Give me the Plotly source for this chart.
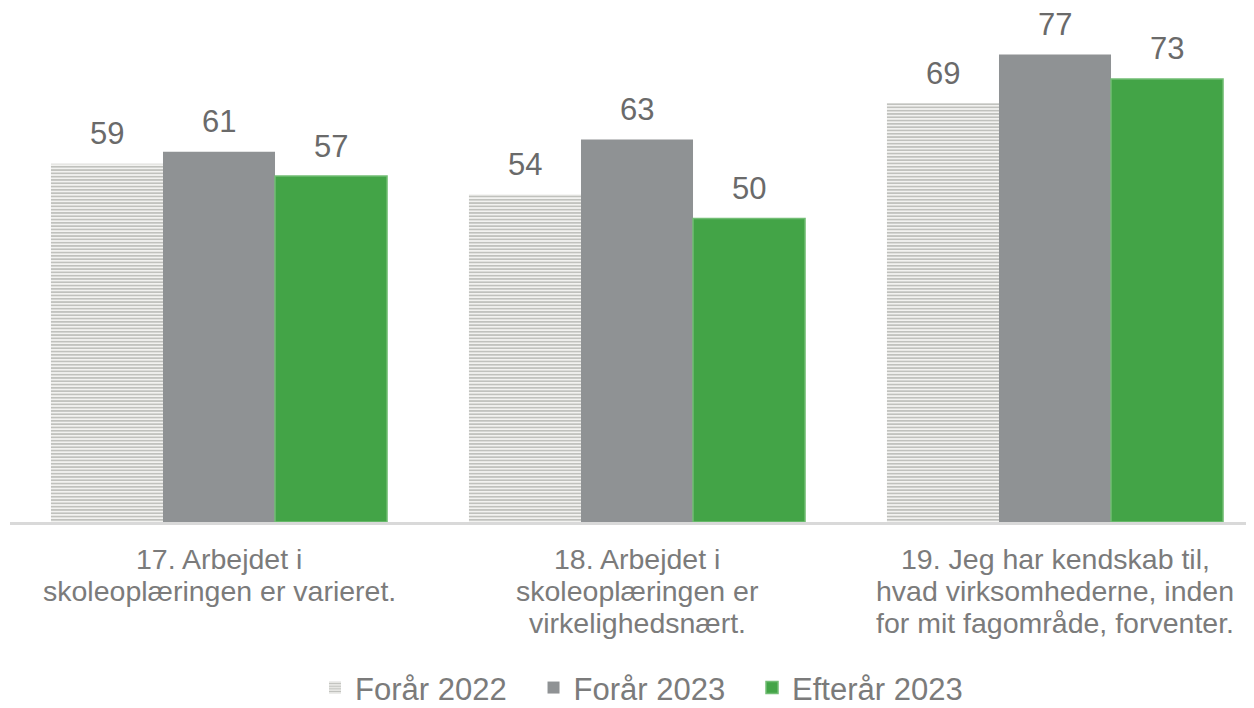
import plotly.graph_objects as go

categories = ["17", "18", "19"]
category_lines = [
    ["17. Arbejdet i", "skoleoplæringen er varieret."],
    ["18. Arbejdet i", "skoleoplæringen er", "virkelighedsnært."],
    ["19. Jeg har kendskab til,", "hvad virksomhederne, inden", "for mit fagområde, forventer."],
]
series_names = ["Forår 2022", "Forår 2023", "Efterår 2023"]
forar_2022 = [59, 54, 69]
forar_2023 = [61, 63, 77]
efterar_2023 = [57, 50, 73]

font_family = "Arial, Liberation Sans, sans-serif"
value_color = "#6a6a6a"
tick_color = "#7b7b7b"

fig = go.Figure()

fig.add_trace(go.Bar(
    name=series_names[0], x=categories, y=forar_2022,
    marker=dict(color="#f2f2f0",
                pattern=dict(shape="-", fgcolor="#8e908a", bgcolor="#f2f2f0",
                             size=3.3, solidity=0.5),
                line=dict(width=0)),
))
fig.add_trace(go.Bar(
    name=series_names[1], x=categories, y=forar_2023,
    marker=dict(color="#8f9294", line=dict(width=0)),
))
fig.add_trace(go.Bar(
    name=series_names[2], x=categories, y=efterar_2023,
    marker=dict(color="#43a447", line=dict(color="#72bd74", width=1.5)),
))

annotations = []
# value labels above the bars
gap = 0.196
bar_w = (1 - gap) / 3
for k, vals in enumerate([forar_2022, forar_2023, efterar_2023]):
    for i, v in enumerate(vals):
        annotations.append(dict(
            x=i - (1 - gap) / 2 + bar_w / 2 + k * bar_w, y=v, xref="x", yref="y",
            text=str(v), showarrow=False, yshift=30,
            font=dict(size=31, color=value_color, family=font_family),
        ))

# category labels, one annotation per line for the tight line spacing
line_shift = [-37, -69, -101]
for i, lines in enumerate(category_lines):
    for j, txt in enumerate(lines):
        annotations.append(dict(
            x=i, y=0, xref="x", yref="paper", text=txt, showarrow=False,
            yshift=line_shift[j], yanchor="middle",
            font=dict(size=28.5, color=tick_color, family=font_family),
        ))

fig.update_layout(
    width=1256, height=716,
    margin=dict(l=2, r=0, t=2, b=202),
    paper_bgcolor="white", plot_bgcolor="white",
    barmode="group", bargap=gap, bargroupgap=0,
    font=dict(family=font_family, color=tick_color, size=30),
    showlegend=True,
    legend=dict(orientation="h", x=0.5048, xanchor="center", y=-0.324, yanchor="middle",
                font=dict(size=31, color=tick_color), entrywidth=173.5,
                traceorder="normal"),
    annotations=annotations,
    xaxis=dict(type="category", range=[-0.5, 2.5], showgrid=False,
               showline=True, linecolor="#d9d9d9", linewidth=3,
               ticks="", showticklabels=False),
    yaxis=dict(range=[0, 84.35], visible=False, showgrid=False, zeroline=False),
)

fig.write_html("out.html")
